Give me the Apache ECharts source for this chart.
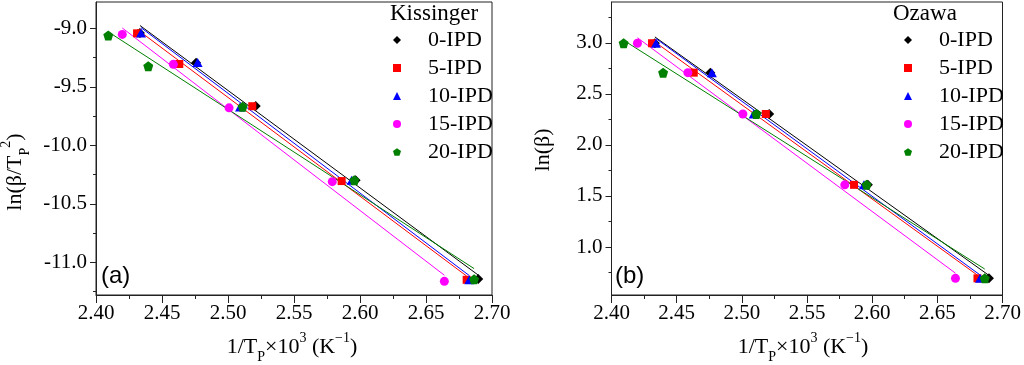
<!DOCTYPE html>
<html>
<head>
<meta charset="utf-8">
<script src="https://cdn.jsdelivr.net/npm/echarts@6/dist/echarts.min.js"></script>
<style>
html,body{margin:0;padding:0;background:#fff;}
#chart{width:1024px;height:365px;}
</style>
</head>
<body>
<div id="chart"></div>
<script>
// ---- data ----
const seriesNames = ['0-IPD', '5-IPD', '10-IPD', '15-IPD', '20-IPD'];
// 1/Tp x 10^3 (K^-1) for each sample
const invTp0  = [2.4333, 2.4758, 2.5210, 2.5967, 2.6896];
const invTp5  = [2.4311, 2.4631, 2.5184, 2.5861, 2.6808];
const invTp10 = [2.4341, 2.4770, 2.5091, 2.5937, 2.6828];
const invTp15 = [2.4199, 2.4586, 2.5008, 2.5790, 2.6639];
const invTp20 = [2.4093, 2.4396, 2.5111, 2.5957, 2.6864];
// Kissinger: ln(beta/Tp^2)
const kis0  = [-9.041, -9.294, -9.664, -10.298, -11.144];
const kis5  = [-9.043, -9.305, -9.666, -10.306, -11.150];
const kis10 = [-9.041, -9.293, -9.673, -10.300, -11.149];
const kis15 = [-9.052, -9.308, -9.680, -10.311, -11.163];
const kis20 = [-9.061, -9.324, -9.671, -10.298, -11.146];
// Ozawa: ln(beta)
const ozw0  = [2.996, 2.708, 2.303, 1.609, 0.693];
const ozw5  = [2.996, 2.708, 2.303, 1.609, 0.693];
const ozw10 = [2.996, 2.708, 2.303, 1.609, 0.693];
const ozw15 = [2.996, 2.708, 2.303, 1.609, 0.693];
const ozw20 = [2.996, 2.708, 2.303, 1.609, 0.693];
// linear fit end points [x, y]
const fitKis0  = [[2.4333, -8.976], [2.6896, -11.110]];
const fitKis5  = [[2.4311, -9.009], [2.6808, -11.118]];
const fitKis10 = [[2.4341, -8.994], [2.6828, -11.114]];
const fitKis15 = [[2.4199, -8.997], [2.6639, -11.111]];
const fitKis20 = [[2.4093, -9.030], [2.6864, -11.054]];
const fitOzw0  = [[2.4333, 3.058], [2.6896, 0.722]];
const fitOzw5  = [[2.4311, 3.029], [2.6808, 0.724]];
const fitOzw10 = [[2.4341, 3.042], [2.6828, 0.726]];
const fitOzw15 = [[2.4199, 3.050], [2.6639, 0.744]];
const fitOzw20 = [[2.4093, 3.025], [2.6864, 0.784]];
// tick labels
const xTickMin = 2.40, xTickMax = 2.70, xTickStep = 0.05;
const kisTicks = [-11.0, -10.5, -10.0, -9.5, -9.0];
const kisMinor = [-11.25, -10.75, -10.25, -9.75, -9.25];
const ozwTicks = [1.0, 1.5, 2.0, 2.5, 3.0];
const ozwMinor = [0.75, 1.25, 1.75, 2.25, 2.75, 3.25];

// ---- styles ----
const colors = ['#000000', '#ff0000', '#0000ff', '#ff00ff', '#008000'];
const pentagon = 'path://M0,-10 L9.51,-3.09 L5.88,8.09 L-5.88,8.09 L-9.51,-3.09 Z';
const symbols = ['diamond', 'rect', 'triangle', 'circle', pentagon];
const symSizes = [[10, 10], [8, 8], [10, 9], [9, 9], [10, 10]];
const SERIF = '"Liberation Serif", "Times New Roman", serif';
const SANS = '"Liberation Sans", Arial, sans-serif';
const AX = '#222';
const LBL = 21;

const xs = [invTp0, invTp5, invTp10, invTp15, invTp20];
const kis = [kis0, kis5, kis10, kis15, kis20];
const ozw = [ozw0, ozw5, ozw10, ozw15, ozw20];
const fitK = [fitKis0, fitKis5, fitKis10, fitKis15, fitKis20];
const fitO = [fitOzw0, fitOzw5, fitOzw10, fitOzw15, fitOzw20];

const zip = (a, b) => a.map((v, i) => [v, b[i]]);

const rich = {
  m: {fontFamily: SERIF, fontSize: 22, lineHeight: 34, verticalAlign: 'middle', fill: '#000'},
  sub: {fontFamily: SERIF, fontSize: 14, lineHeight: 34, verticalAlign: 'bottom', fill: '#000'},
  sup: {fontFamily: SERIF, fontSize: 14, lineHeight: 34, verticalAlign: 'top', padding: [1, 0, 0, 0], fill: '#000'}
};

function xAxisDef(grid) {
  return {
    type: 'value', gridIndex: grid, min: xTickMin, max: xTickMax, interval: xTickStep,
    axisLine: {show: true, lineStyle: {color: AX, width: 1}},
    axisTick: {show: true, inside: false, length: 8, lineStyle: {color: AX}},
    minorTick: {show: true, splitNumber: 2, length: 4, lineStyle: {color: AX}},
    splitLine: {show: false},
    axisLabel: {fontFamily: SERIF, fontSize: LBL, color: '#000', margin: 8,
      formatter: v => v.toFixed(2)}
  };
}

function yAxisDef(grid, min, max, ticks) {
  return {
    type: 'value', gridIndex: grid, min: min, max: max,
    axisLine: {show: true, lineStyle: {color: AX, width: 1}},
    axisTick: {show: true, inside: false, length: 6, customValues: ticks, lineStyle: {color: AX}},
    splitLine: {show: false},
    axisLabel: {fontFamily: SERIF, fontSize: LBL, color: '#000', margin: 9,
      customValues: ticks, formatter: v => v.toFixed(1)}
  };
}
function yMinorDef(grid, min, max, ticks) {
  return {
    type: 'value', gridIndex: grid, min: min, max: max, position: 'left',
    axisLine: {show: false},
    axisTick: {show: true, inside: false, length: 3, customValues: ticks, lineStyle: {color: AX}},
    axisLabel: {show: false}, splitLine: {show: false}
  };
}

const series = [];
[0, 1].forEach(g => {
  const ys = g === 0 ? kis : ozw;
  const fits = g === 0 ? fitK : fitO;
  seriesNames.forEach((n, i) => {
    series.push({
      name: n + (g === 0 ? ' fit a' : ' fit b'), type: 'line',
      xAxisIndex: g, yAxisIndex: g * 2, data: fits[i],
      showSymbol: false, symbol: 'none', silent: true,
      lineStyle: {color: colors[i], width: 1}, z: 2
    });
  });
  seriesNames.forEach((n, i) => {
    series.push({
      name: n, type: 'scatter', xAxisIndex: g, yAxisIndex: g * 2,
      data: zip(xs[i], ys[i]), symbol: symbols[i], symbolSize: symSizes[i],
      itemStyle: {color: colors[i], opacity: 1}, z: 3 + i
    });
  });
});

function legendDef(left) {
  return {
    data: seriesNames, orient: 'vertical', left: left, top: 24,
    itemWidth: 8, itemHeight: 8, itemGap: 6, selectedMode: false,
    textStyle: {fontFamily: SERIF, fontSize: 22, color: '#000', padding: [0, 0, 0, 22]}
  };
}

const xTitle = '{m|1/T}{sub|P}{m|×10}{sup|3}{m| (K}{sup|−1}{m|)}';

function titleText(x, y, text, rot) {
  return {
    type: 'text', x: x, y: y, rotation: rot || 0,
    style: {text: text, rich: rich, align: 'center', verticalAlign: 'middle',
      fontFamily: SERIF, fontSize: 22, fill: '#000'}
  };
}

const chart = echarts.init(document.getElementById('chart'), null, {renderer: 'canvas'});
chart.setOption({
  animation: false,
  backgroundColor: '#fff',
  grid: [
    {left: 96, top: 2, width: 396, height: 293, show: true, borderColor: AX, borderWidth: 1, backgroundColor: 'transparent'},
    {left: 611.5, top: 2, width: 391, height: 293, show: true, borderColor: AX, borderWidth: 1, backgroundColor: 'transparent'}
  ],
  xAxis: [xAxisDef(0), xAxisDef(1)],
  yAxis: [
    yAxisDef(0, -11.28, -8.775, kisTicks),
    yMinorDef(0, -11.28, -8.775, kisMinor),
    yAxisDef(1, 0.53, 3.40, ozwTicks),
    yMinorDef(1, 0.53, 3.40, ozwMinor)
  ],
  legend: [legendDef(388), legendDef(899)],
  graphic: [
    titleText(292, 347, xTitle),
    titleText(803, 347, xTitle),
    titleText(15, 172, '{m|ln(β/T}{sub|P}{sup|2}{m|)}', Math.PI / 2),
    titleText(543, 150, '{m|ln(β)}', Math.PI / 2),
    {type: 'text', left: 390, top: 2, style: {text: 'Kissinger', fontFamily: SERIF, fontSize: 23, fill: '#000'}},
    {type: 'text', left: 893, top: 2, style: {text: 'Ozawa', fontFamily: SERIF, fontSize: 23, fill: '#000'}},
    {type: 'text', left: 101, top: 264, style: {text: '(a)', fontFamily: SANS, fontSize: 24, fill: '#000'}},
    {type: 'text', left: 615, top: 264, style: {text: '(b)', fontFamily: SANS, fontSize: 24, fill: '#000'}}
  ],
  series: series
});
</script>
</body>
</html>
